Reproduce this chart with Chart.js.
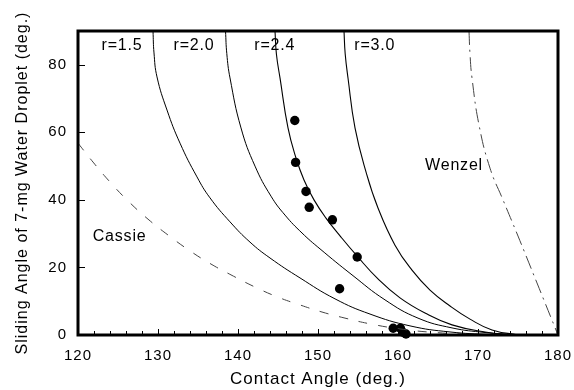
<!DOCTYPE html>
<html><head><meta charset="utf-8">
<script src="https://cdn.jsdelivr.net/npm/chart.js@4"></script>
<style>html,body{margin:0;padding:0;background:#fff}</style>
</head><body>
<canvas id="c" width="574" height="390"></canvas>
<script>
// ---- data ----
const xTickValues = [120, 130, 140, 150, 160, 170, 180];
const yTickValues = [0, 20, 40, 60, 80];

const curveR15 = [[129.375,90],[129.5,83.5],[129.875,76.4],[131.125,66.6],[132.75,56.8],[134.875,46.8],[136.5,40.6],[139.0,33.5],[141.5,27.5],[144.0,22.8],[147.75,16.9],[152.125,10.7],[156.5,6.2],[161.5,2.7],[166.5,0.9],[171.5,0.15],[174,0]];
const curveR20 = [[138.44,90],[138.6,83.3],[139.0,76.1],[140.375,61.3],[142.125,50.0],[144.125,41.1],[145.875,35.5],[148.0,30.2],[150.25,25.5],[154.25,17.8],[158.375,10.4],[162.5,5.0],[166.75,2.1],[170.875,0.74],[174.625,0]];
const curveR24 = [[144.625,90],[144.8,83.2],[145.25,76.1],[146.25,61.3],[147.25,52.4],[148.25,45.9],[149.5,40.0],[151.0,34.6],[152.875,29.0],[154.875,23.4],[157.5,16.6],[160.25,11.0],[163.375,6.5],[166.75,3.0],[170.875,0.9],[174.625,0]];
const curveR30 = [[153.25,90],[153.4,83.2],[153.75,76.1],[154.625,61.3],[156.0,48.3],[157.5,37.6],[159.625,26.6],[161.75,19.2],[164.0,13.3],[166.5,8.6],[169.0,4.7],[171.75,1.5],[175,0]];
const curveCassie = [[120,56.8],[121.875,51.2],[124.0,45.3],[126.25,39.7],[128.75,34.3],[131.25,29.6],[134.0,24.9],[136.625,21.0],[139.125,17.8],[142.125,14.2],[145.0,11.2],[147.75,8.9],[150.5,6.8],[153.375,5.0],[156.5,3.3],[160.25,1.8],[164.625,0.74],[169.625,0.15],[174,0]];
const curveWenzel = [[168.875,90],[169.0,83.2],[169.25,76.1],[170.125,62.2],[171.5,49.4],[173.125,40.0],[175.0,29.3],[177.375,15.4],[180,0]];
const measured = [[147.1,63.5],[147.2,51.1],[148.5,42.5],[148.9,37.8],[151.8,34.1],[154.9,23.1],[152.7,13.7],[159.4,2.0],[160.3,2.0],[160.6,0.8],[161.0,0.3]];

const annotations = [
  {text:'r=1.5', x:125.5, y:85.8},
  {text:'r=2.0', x:134.5, y:85.8},
  {text:'r=2.4', x:144.6, y:85.8},
  {text:'r=3.0', x:157.1, y:85.8},
  {text:'Wenzel', x:167.0, y:50.2},
  {text:'Cassie', x:125.2, y:29.1}
];

const toXY = arr => arr.map(p => ({x:p[0], y:p[1]}));
const FONT = '"Liberation Sans", Arial, Helvetica, sans-serif';

function lineSet(data, extra) {
  return Object.assign({
    data: toXY(data), showLine: true, pointRadius: 0, borderColor: '#000',
    borderWidth: 1, tension: 0.45, fill: false
  }, extra || {});
}

const framePlugin = {
  id: 'frame',
  beforeDraw(chart) { try { chart.ctx.letterSpacing = '1px'; } catch (e) {} },
  afterDatasetsDraw(chart) {
    const {ctx, chartArea: a, scales: {x, y}} = chart;
    ctx.save();
    ctx.strokeStyle = '#000';
    ctx.lineWidth = 1;
    ctx.beginPath();
    for (let v = 120; v <= 180; v += 2) {
      const px = Math.round(x.getPixelForValue(v)) + 0.5;
      const len = (v % 10 === 0) ? 6 : 4;
      ctx.moveTo(px, a.bottom); ctx.lineTo(px, a.bottom - len);
    }
    yTickValues.forEach(v => {
      const py = Math.round(y.getPixelForValue(v)) + 0.5;
      ctx.moveTo(a.left, py); ctx.lineTo(a.left + 7, py);
    });
    ctx.stroke();
    ctx.lineWidth = 3;
    ctx.strokeRect(a.left, a.top, a.right - a.left, a.bottom - a.top);
    ctx.restore();
  },
  afterDraw(chart) {
    const {ctx, scales: {x, y}} = chart;
    ctx.save();
    ctx.fillStyle = '#000';
    ctx.font = '16px ' + FONT;
    try { ctx.letterSpacing = '0.8px'; } catch (e) {}
    ctx.textAlign = 'center';
    ctx.textBaseline = 'middle';
    annotations.forEach(a => ctx.fillText(a.text, x.getPixelForValue(a.x), y.getPixelForValue(a.y)));
    ctx.restore();
  }
};

new Chart(document.getElementById('c'), {
  type: 'scatter',
  data: {
    datasets: [
      lineSet(curveR15),
      lineSet(curveR20),
      lineSet(curveR24, {borderWidth: 1.1}),
      lineSet(curveR30, {borderWidth: 1.1}),
      lineSet(curveCassie, {borderColor: '#444', borderDash: [9, 11]}),
      lineSet(curveWenzel, {borderColor: '#444', borderDash: [14, 5, 2, 5]}),
      {data: toXY(measured), showLine: false, pointRadius: 4.7, pointHoverRadius: 4.7,
       backgroundColor: '#000', borderColor: '#000', borderWidth: 0, clip: false}
    ]
  },
  options: {
    responsive: false,
    animation: false,
    events: [],
    layout: {padding: {top: 31, right: 16, bottom: 0, left: 0}},
    plugins: {legend: {display: false}, tooltip: {enabled: false}},
    scales: {
      x: {
        type: 'linear', min: 120, max: 180,
        afterBuildTicks: s => { s.ticks = xTickValues.map(v => ({value: v})); },
        afterFit: s => { s.height = 55; s.paddingLeft = 0; s.paddingRight = 0; },
        grid: {display: false, drawTicks: false},
        border: {display: false},
        ticks: {color: '#000', padding: 12, font: {family: FONT, size: 15}, maxRotation: 0},
        title: {display: true, text: 'Contact Angle (deg.)', color: '#000',
                font: {family: FONT, size: 17}, padding: {top: 0, bottom: 0}}
      },
      y: {
        type: 'linear', min: 0, max: 90,
        afterBuildTicks: s => { s.ticks = yTickValues.map(v => ({value: v})); },
        afterFit: s => { s.width = 78; s.paddingTop = 0; s.paddingBottom = 0; },
        grid: {display: false, drawTicks: false},
        border: {display: false},
        ticks: {color: '#000', padding: 11, font: {family: FONT, size: 15}},
        title: {display: true, text: 'Sliding Angle of 7-mg Water Droplet (deg.)', color: '#000',
                font: {family: FONT, size: 16}, padding: {top: 13, bottom: 0}}
      }
    }
  },
  plugins: [framePlugin]
});
</script>
</body></html>
